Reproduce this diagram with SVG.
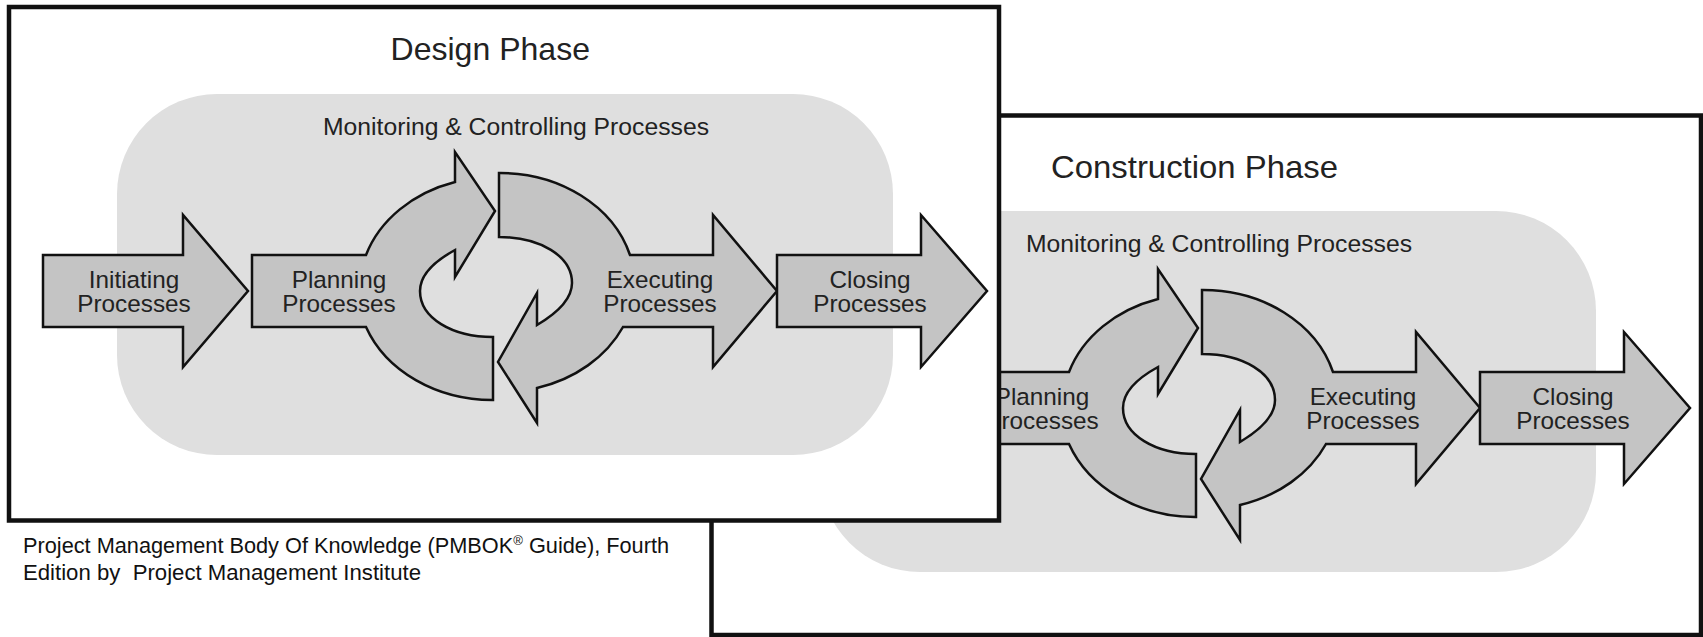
<svg xmlns="http://www.w3.org/2000/svg" width="1703" height="637" viewBox="0 0 1703 637">
<style>
.frame{fill:#fff;stroke:#111;stroke-width:4.5}
.band{fill:#dfdfdf}
.arrow{fill:#c4c4c4;stroke:#111;stroke-width:2.5;stroke-linejoin:miter}
.t{font-family:'Liberation Sans',Arial,sans-serif;fill:#222}
.lbl{font-size:24.3px;text-anchor:middle}
.mon{font-size:24.7px}
.title{font-size:32px}
.cite{font-family:'Liberation Sans',Arial,sans-serif;font-size:21.5px;fill:#111}
</style>

<!-- Construction phase (behind) -->
<g id="construction-phase">
  <rect id="construction-frame" class="frame" x="711.5" y="115.5" width="989.5" height="519.5"/>
  <g transform="translate(703,117)">
    <rect id="construction-monitoring-band" class="band" x="117" y="94" width="776" height="361" rx="100" ry="100"/>
    <text class="t mon" x="323" y="135" textLength="386" lengthAdjust="spacingAndGlyphs">Monitoring &amp; Controlling Processes</text>
    <g id="construction-planning">
      <path class="arrow" d="M252,255 H366 A135,113 0 0 1 455,182 L455,152 L495,211 L455,277 L455,250 C433,262 420,276 420,291 C420,318 452,337 493,337 L493,400 A135,113 0 0 1 366,327 H252 Z"/>
      <text class="t lbl" x="339" y="288">Planning</text>
      <text class="t lbl" x="339" y="312">Processes</text>
    </g>
    <g id="construction-executing">
      <path class="arrow" d="M499,173 A135,113 0 0 1 630,255 H713 V215 L777,291 L713,367 V327 H623 A135,113 0 0 1 537,388 L537,423 L498,362 L537,293 L537,325 C559,312 572,298 572,283 C572,256 540,237 499,237 Z"/>
      <text class="t lbl" x="660" y="288">Executing</text>
      <text class="t lbl" x="660" y="312">Processes</text>
    </g>
    <g id="construction-closing">
      <path class="arrow" d="M777,255 H921 V215 L987,291 L921,367 V327 H777 Z"/>
      <text class="t lbl" x="870" y="288">Closing</text>
      <text class="t lbl" x="870" y="312">Processes</text>
    </g>
  </g>
  <text id="construction-title" class="t title" x="1051" y="178" textLength="287" lengthAdjust="spacingAndGlyphs">Construction Phase</text>
</g>

<!-- Design phase (front) -->
<g id="design-phase">
  <rect id="design-frame" class="frame" x="9" y="7" width="990" height="513.5"/>
  <rect id="design-monitoring-band" class="band" x="117" y="94" width="776" height="361" rx="100" ry="100"/>
  <text id="design-title" class="t title" x="390.5" y="60" textLength="199.5" lengthAdjust="spacingAndGlyphs">Design Phase</text>
  <text id="design-monitoring" class="t mon" x="323" y="135" textLength="386" lengthAdjust="spacingAndGlyphs">Monitoring &amp; Controlling Processes</text>
  <g id="design-initiating">
    <path class="arrow" d="M43,255 H183 V215 L248,291 L183,367 V327 H43 Z"/>
    <text class="t lbl" x="134" y="288">Initiating</text>
    <text class="t lbl" x="134" y="312">Processes</text>
  </g>
  <g id="design-planning">
    <path class="arrow" d="M252,255 H366 A135,113 0 0 1 455,182 L455,152 L495,211 L455,277 L455,250 C433,262 420,276 420,291 C420,318 452,337 493,337 L493,400 A135,113 0 0 1 366,327 H252 Z"/>
    <text class="t lbl" x="339" y="288">Planning</text>
    <text class="t lbl" x="339" y="312">Processes</text>
  </g>
  <g id="design-executing">
    <path class="arrow" d="M499,173 A135,113 0 0 1 630,255 H713 V215 L777,291 L713,367 V327 H623 A135,113 0 0 1 537,388 L537,423 L498,362 L537,293 L537,325 C559,312 572,298 572,283 C572,256 540,237 499,237 Z"/>
    <text class="t lbl" x="660" y="288">Executing</text>
    <text class="t lbl" x="660" y="312">Processes</text>
  </g>
  <g id="design-closing">
    <path class="arrow" d="M777,255 H921 V215 L987,291 L921,367 V327 H777 Z"/>
    <text class="t lbl" x="870" y="288">Closing</text>
    <text class="t lbl" x="870" y="312">Processes</text>
  </g>
</g>

<g id="connectors"></g>

<g id="citation">
  <text class="cite" x="23" y="553" textLength="646" lengthAdjust="spacingAndGlyphs">Project Management Body Of Knowledge (PMBOK<tspan font-size="13" dy="-8">®</tspan><tspan dy="8"> Guide), Fourth</tspan></text>
  <text class="cite" x="23" y="580" xml:space="preserve" textLength="398" lengthAdjust="spacingAndGlyphs">Edition by  Project Management Institute</text>
</g>
</svg>
